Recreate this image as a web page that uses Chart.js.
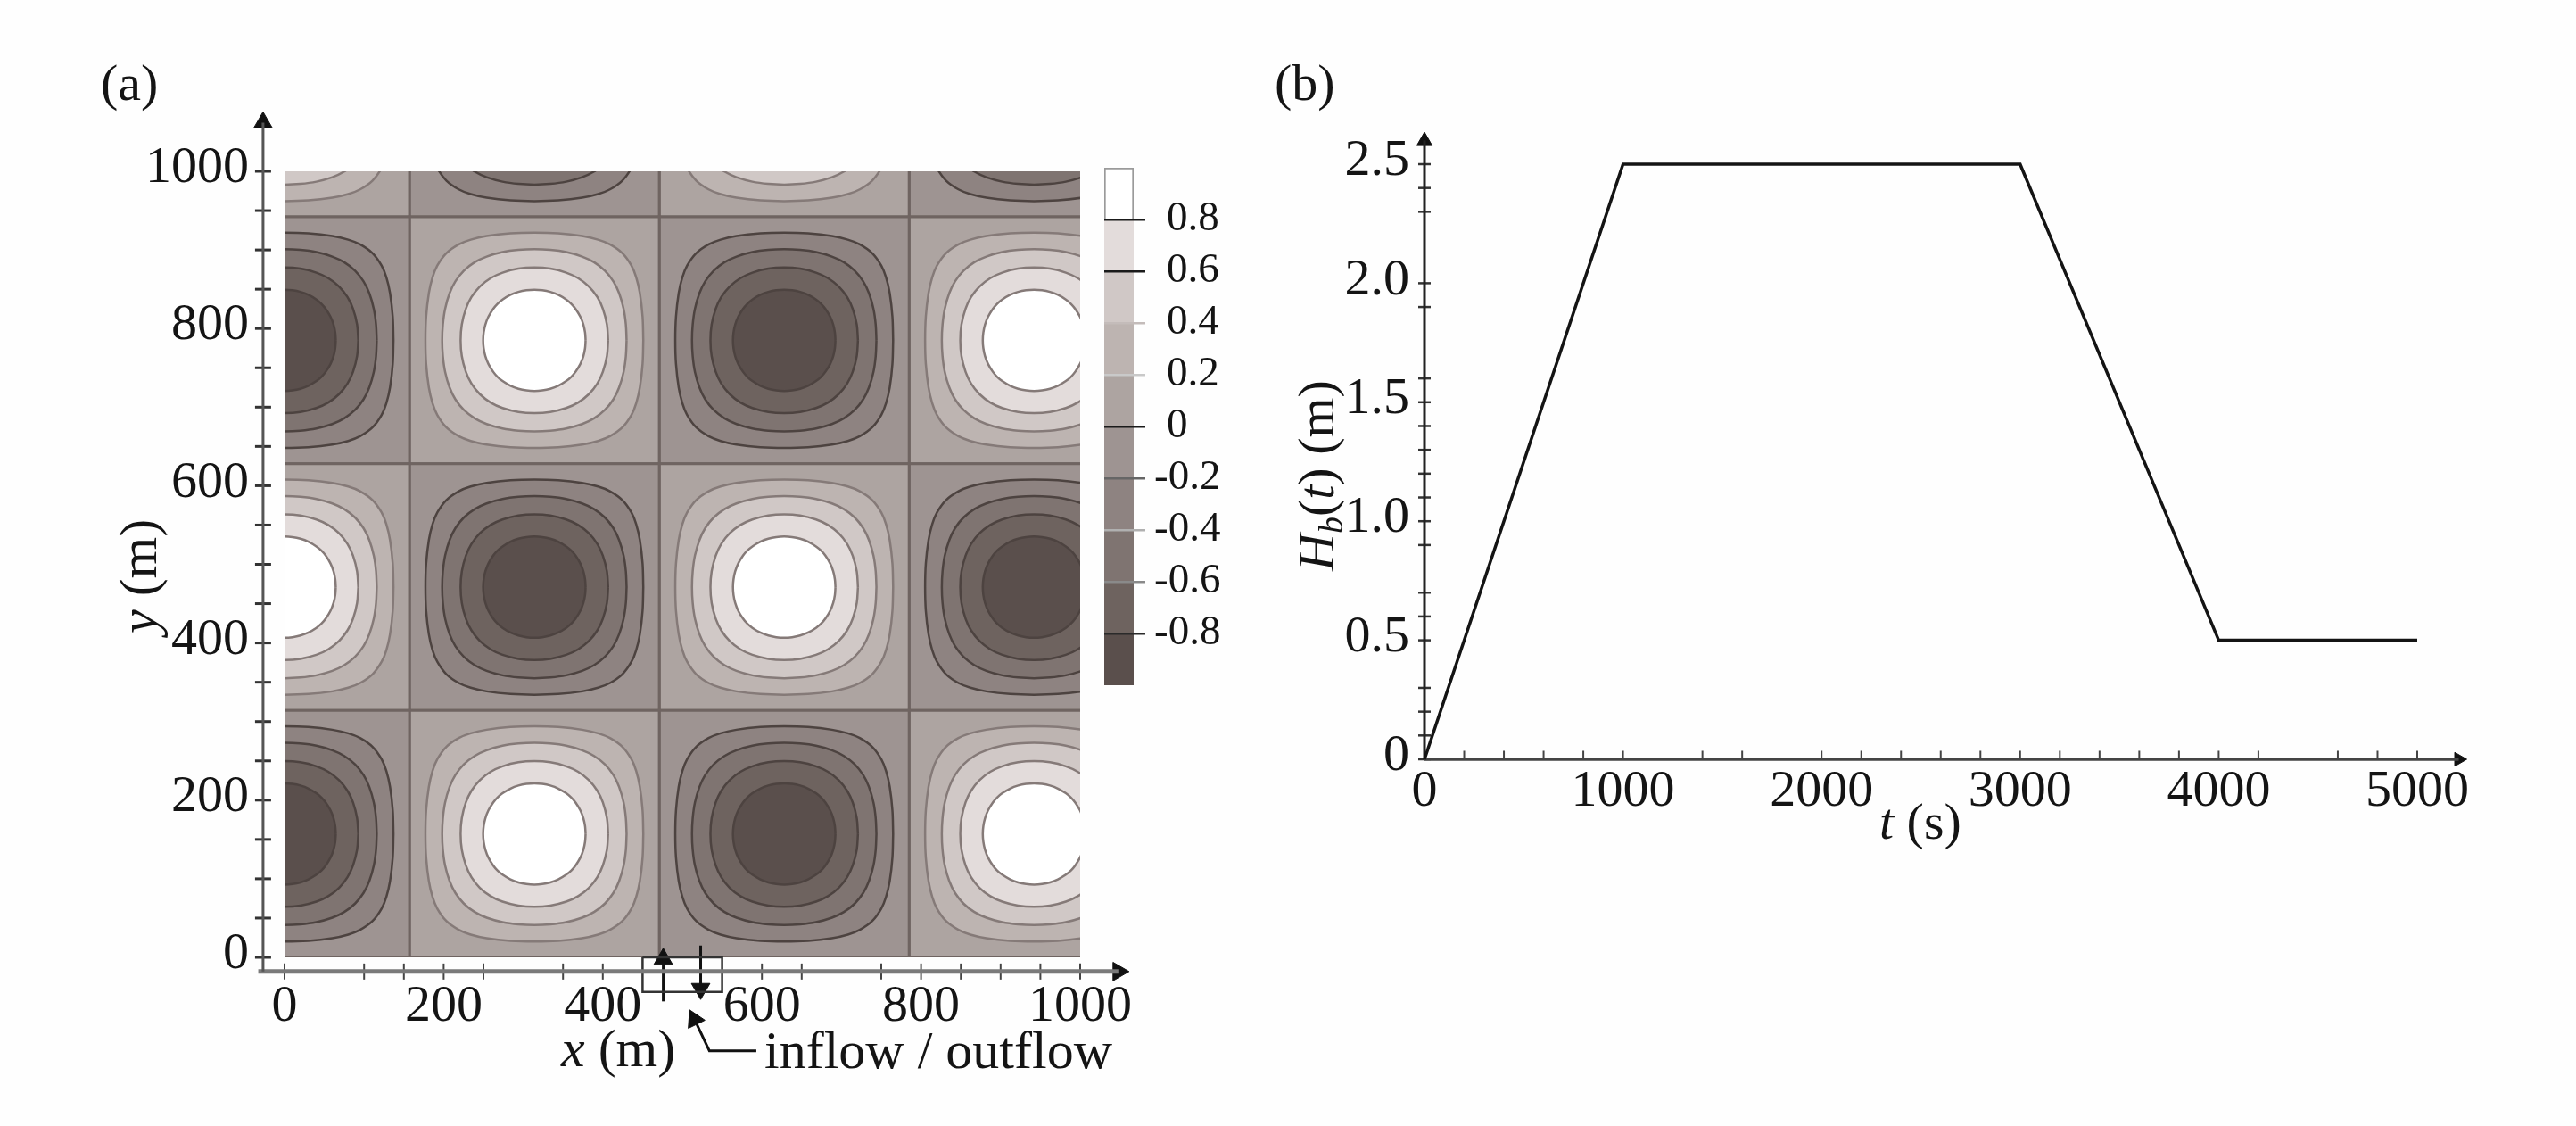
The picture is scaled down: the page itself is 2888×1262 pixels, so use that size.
<!DOCTYPE html>
<html>
<head>
<meta charset="utf-8">
<title>Contour field and boundary head</title>
<script src="https://cdn.jsdelivr.net/npm/chart.js@4/dist/chart.umd.min.js"></script>
<style>
    html, body { margin: 0; padding: 0; background: #fefefe; overflow: hidden; }
    canvas { position: absolute; left: 0; top: 0; }
</style>
</head>
<body>
<canvas id="fieldPlot" width="2888" height="1262"></canvas>
<canvas id="fieldFrame" width="2888" height="1262"></canvas>
<canvas id="colorBar" width="2888" height="1262"></canvas>
<canvas id="headPlot" width="2888" height="1262"></canvas>
<script>
// Panel (a): cell centres in metres, sign of the field in each cell (bottom row first)
const cellX = [0, 314, 628, 942];
const cellY = [157, 471, 785, 1099];
const cellHalf = 157;
const cellSign = [
    [-1, 1, -1, 1],
    [1, -1, 1, -1],
    [-1, 1, -1, 1],
    [1, -1, 1, -1],
];

const contour02 = [[136.9, 0], [136, 30], [132.6, 60], [128, 80], [122, 95], [110.7, 110.7], [95, 122], [80, 128], [60, 132.6], [30, 136], [0, 136.9]];
const contour04 = [[115.9, 0], [115, 20], [112.2, 40], [106.5, 60], [99.3, 75], [88.6, 88.6], [75, 99.3], [60, 106.5], [40, 112.2], [20, 115], [0, 115.9]];
const contour06 = [[92.7, 0], [91.2, 20], [86.1, 40], [79.1, 55], [68.5, 68.5], [55, 79.1], [40, 86.1], [20, 91.2], [0, 92.7]];
const contour08 = [[64.4, 0], [63.7, 10], [61.6, 20], [57.8, 30], [51.8, 40], [46.4, 46.4], [40, 51.8], [30, 57.8], [20, 61.6], [10, 63.7], [0, 64.4]];
const contours = [contour02, contour04, contour06, contour08];

// Shades from the colour bar, low end first
const levelEdges = [-1, -0.8, -0.6, -0.4, -0.2, 0, 0.2, 0.4, 0.6, 0.8, 1];
const levelShades = ['#5a4f4c', '#6e635f', '#7f7471', '#8e8381', '#9e9492', '#ada4a1', '#bdb4b1', '#d0c8c6', '#e3dcdb', '#ffffff'];
const barTicks = [0.8, 0.6, 0.4, 0.2, 0, -0.2, -0.4, -0.6, -0.8];

// Axis marks of panel (a)
const fieldLabelsX = [0, 200, 400, 600, 800, 1000];
const fieldLabelsY = [0, 200, 400, 600, 800, 1000];
const fieldTicksX = [0, 100, 150, 200, 250, 350, 400, 600, 650, 750, 800, 850, 900, 950, 1000];
const fieldTicksY = [0, 50, 100, 150, 200, 250, 300, 350, 400, 450, 500, 550, 600, 650, 700, 750, 800, 850, 900, 950, 1000];
const inflowBoxX = [450, 550, 550, 450, 450];
const inflowBoxY = [0, 0, -44, -44, 0];

// Panel (b)
const timeValues = [0, 1000, 3000, 4000, 5000];
const headValues = [0, 2.5, 2.5, 0.5, 0.5];
const timeLabels = [0, 1000, 2000, 3000, 4000, 5000];
const headLabels = [0, 0.5, 1.0, 1.5, 2.0, 2.5];
const headTicksX = [0, 200, 400, 600, 800, 1000, 1400, 1600, 2000, 2200, 2400, 2600, 2800, 3000, 3200, 3400, 3600, 3800, 4000, 4200, 4600, 4800, 5000];
const headTicksY = [0, 0.1, 0.2, 0.3, 0.5, 0.6, 0.7, 0.9, 1.0, 1.1, 1.2, 1.3, 1.4, 1.5, 1.6, 1.9, 2.0, 2.3, 2.4, 2.5];

const serif = 'Liberation Serif';
const inkColor = '#141414';
const W = 2888, H = 1262;

// Where the 0..1000 box of panel (a) sits on the page
const boxLeft = 319, boxRight = 1211, boxTop = 192, boxBottom = 1073;

Chart.defaults.animation = false;
Chart.defaults.devicePixelRatio = 1;
Chart.defaults.font.family = serif;
Chart.defaults.color = inkColor;

function zip(xs, ys) {
    return xs.map((x, i) => ({ x: x, y: ys[i] }));
}

function atValues(list) {
    return scale => { scale.ticks = list.map(v => ({ value: v })); };
}

// Mirror a quarter contour into a closed loop around a centre
function closedLoop(quarter, cx, cy) {
    const back = quarter.slice().reverse().slice(1);
    const rest = quarter.slice(1);
    const loop = quarter
        .concat(back.map(p => [-p[0], p[1]]))
        .concat(rest.map(p => [-p[0], -p[1]]))
        .concat(back.map(p => [p[0], -p[1]]));
    return loop.map(p => ({ x: cx + p[0], y: cy + p[1] }));
}

function lineSet(points, color, width) {
    return { type: 'scatter', showLine: true, data: points, borderColor: color, borderWidth: width, pointRadius: 0, fill: false, clip: false };
}

function markSet(points, style, radius, rotation, color, width) {
    return {
        type: 'scatter', showLine: false, data: points, pointStyle: style, pointRadius: radius, pointRotation: rotation,
        pointBorderColor: color, pointBackgroundColor: color, pointBorderWidth: width, clip: false,
    };
}

// Build the filled cells and their nested contours
const fieldSets = [];
cellY.forEach((cy, row) => {
    cellX.forEach((cx, col) => {
        const sign = cellSign[row][col];
        const zeroIndex = sign > 0 ? 5 : 4;
        fieldSets.push({
            type: 'scatter', showLine: true, pointRadius: 0, fill: 'shape', order: 6, clip: 0,
            backgroundColor: levelShades[zeroIndex], borderColor: '#6f6461', borderWidth: 3,
            data: [
                { x: cx - cellHalf, y: cy - cellHalf }, { x: cx + cellHalf, y: cy - cellHalf },
                { x: cx + cellHalf, y: cy + cellHalf }, { x: cx - cellHalf, y: cy + cellHalf },
                { x: cx - cellHalf, y: cy - cellHalf },
            ],
        });
        contours.forEach((shape, k) => {
            fieldSets.push({
                type: 'scatter', showLine: true, pointRadius: 0, fill: 'shape', order: 5 - k, clip: 0,
                tension: 0.35, capBezierPoints: false,
                backgroundColor: levelShades[zeroIndex + sign * (k + 1)],
                borderColor: sign > 0 ? '#857a78' : '#4d4340', borderWidth: 2.5,
                data: closedLoop(shape, cx, cy),
            });
        });
    });
});

// Axes, ticks and the inflow / outflow sketch of panel (a), on a wider overlay
const frameSets = [
    lineSet([{ x: -27, y: -18 }, { x: -27, y: 1062 }], '#555555', 3),
    lineSet([{ x: -33, y: -18 }, { x: 1048, y: -18 }], '#7a7a7a', 5),
    markSet(fieldTicksY.map(v => ({ x: -27, y: v })), 'line', 9, 0, '#333333', 3),
    markSet(fieldTicksX.map(v => ({ x: v, y: -18 })), 'line', 9, 90, '#444444', 2),
    markSet([{ x: -27, y: 1062 }], 'triangle', 12, 0, '#111111', 1),
    markSet([{ x: 1048, y: -18 }], 'triangle', 12, 90, '#111111', 1),
    lineSet(zip(inflowBoxX, inflowBoxY), '#333333', 2.5),
    lineSet([{ x: 476, y: -56 }, { x: 476, y: 5 }], '#111111', 3),
    lineSet([{ x: 523, y: 15 }, { x: 523, y: -45 }], '#111111', 3),
    markSet([{ x: 476, y: -2 }], 'triangle', 12, 0, '#111111', 1),
    markSet([{ x: 523, y: -40 }], 'triangle', 12, 180, '#111111', 1),
    lineSet([{ x: 593, y: -119 }, { x: 534, y: -119 }, { x: 512, y: -72 }], '#111111', 3),
    markSet([{ x: 515, y: -79 }], 'triangle', 12, -26, '#111111', 1),
];

function runText(ctx, x, y, angle, runs) {
    ctx.save();
    ctx.translate(x, y);
    ctx.rotate(angle);
    ctx.textBaseline = 'alphabetic';
    ctx.textAlign = 'left';
    ctx.fillStyle = inkColor;
    let pen = 0;
    runs.forEach(r => {
        ctx.font = (r.italic ? 'italic ' : '') + (r.size || 58) + 'px "' + serif + '"';
        ctx.fillText(r.text, pen, r.drop || 0);
        pen += ctx.measureText(r.text).width;
    });
    ctx.restore();
}

const fieldTexts = {
    id: 'fieldTexts',
    afterDraw(chart) {
        const ctx = chart.ctx;
        runText(ctx, 113, 112, 0, [{ text: '(a)' }]);
        runText(ctx, 175, 710, -Math.PI / 2, [{ text: 'y', italic: true, size: 60 }, { text: ' (m)', size: 60 }]);
        runText(ctx, 629, 1195, 0, [{ text: 'x', italic: true, size: 60 }, { text: ' (m)', size: 60 }]);
        runText(ctx, 857, 1197, 0, [{ text: 'inflow / outflow', size: 60 }]);
    },
};

const headTexts = {
    id: 'headTexts',
    afterDraw(chart) {
        const ctx = chart.ctx;
        runText(ctx, 1429, 112, 0, [{ text: '(b)' }]);
        runText(ctx, 1495, 640, -Math.PI / 2, [
            { text: 'H', italic: true }, { text: 'b', italic: true, size: 38, drop: 10 },
            { text: '(' }, { text: 't', italic: true }, { text: ') (m)' },
        ]);
        runText(ctx, 2107, 940, 0, [{ text: 't', italic: true }, { text: ' (s)' }]);
    },
};

const quiet = { legend: { display: false }, tooltip: { enabled: false } };

// Panel (a)
new Chart(document.getElementById('fieldPlot'), {
    type: 'scatter',
    data: { datasets: fieldSets },
    options: {
        responsive: false,
        layout: { padding: { top: boxTop, right: W - boxRight } },
        plugins: quiet,
        scales: {
            x: {
                type: 'linear', min: 0, max: 1000, afterBuildTicks: atValues(fieldLabelsX),
                afterFit: s => { s.height = H - boxBottom; },
                grid: { display: false, drawTicks: false }, border: { display: false },
                ticks: { padding: 21, maxRotation: 0, autoSkip: false, font: { size: 58 }, callback: v => String(v) },
            },
            y: {
                type: 'linear', min: 0, max: 1000, afterBuildTicks: atValues(fieldLabelsY),
                afterFit: s => { s.width = boxLeft; },
                grid: { display: false, drawTicks: false }, border: { display: false },
                ticks: { padding: 40, labelOffset: -3, autoSkip: false, font: { size: 58 }, callback: v => String(v) },
            },
        },
    },
    plugins: [fieldTexts],
});

// Overlay with the same metres per pixel as the box, but room for the axes around it
const frameX = [-50, 1100], frameY = [-150, 1100];
const pxX = (boxRight - boxLeft) / 1000, pxY = (boxBottom - boxTop) / 1000;
new Chart(document.getElementById('fieldFrame'), {
    type: 'scatter',
    data: { datasets: frameSets },
    options: {
        responsive: false,
        layout: {
            padding: {
                left: boxLeft + frameX[0] * pxX, right: W - boxLeft - frameX[1] * pxX,
                top: boxBottom - frameY[1] * pxY, bottom: H - boxBottom + frameY[0] * pxY,
            },
        },
        plugins: quiet,
        scales: {
            x: { type: 'linear', min: frameX[0], max: frameX[1], display: false },
            y: { type: 'linear', min: frameY[0], max: frameY[1], display: false },
        },
    },
});

// Colour bar of panel (a)
const barSets = levelShades.map((shade, i) => ({
    data: [[levelEdges[i], levelEdges[i + 1]]],
    backgroundColor: shade,
    borderColor: i === levelShades.length - 1 ? '#9a9a9a' : shade,
    borderWidth: i === levelShades.length - 1 ? 2 : 0,
    barPercentage: 1,
    categoryPercentage: 1,
    grouped: false,
}));
const barTickColors = { '0.8': '#1a1a1a', '0.6': '#1a1a1a', '0.4': '#c4bcba', '0.2': '#c9c9c9', '0': '#1a1a1a', '-0.2': '#666666', '-0.4': '#b0b0b0', '-0.6': '#8a8a8a', '-0.8': '#2a2a2a' };

new Chart(document.getElementById('colorBar'), {
    type: 'bar',
    data: { labels: [''], datasets: barSets },
    options: {
        responsive: false,
        layout: { padding: { left: 1238, top: 188, bottom: H - 768 } },
        plugins: quiet,
        scales: {
            x: { display: false },
            y: {
                position: 'right', min: -1, max: 1, afterBuildTicks: atValues(barTicks),
                afterFit: s => { s.width = W - 1271; },
                grid: {
                    z: 1, tickLength: 13, lineWidth: 2.5,
                    color: c => barTickColors[String(c.tick.value)],
                    tickColor: c => barTickColors[String(c.tick.value)],
                },
                border: { display: false },
                ticks: { padding: 24, autoSkip: false, font: { size: 47 }, callback: v => (v >= 0 ? String(v) : '') },
            },
            // negative labels start further left, so that the digits line up with the positive ones
            yNegative: {
                axis: 'y', position: 'left', min: -1, max: 1, afterBuildTicks: atValues(barTicks.filter(v => v < 0)),
                afterFit: s => { s.width = 0; },
                grid: { display: false, drawTicks: false },
                border: { display: false },
                ticks: { mirror: true, crossAlign: 'near', padding: 56, autoSkip: false, font: { size: 47 }, callback: v => String(v) },
            },
        },
    },
});

// Panel (b): the area runs past the last labels to leave room for the arrows
const headMaxX = 5300, headMaxY = 2.7;
const headLeft = 1597, headBottom = 851;
new Chart(document.getElementById('headPlot'), {
    type: 'scatter',
    data: {
        datasets: [
            lineSet(zip(timeValues, headValues), '#141414', 3.5),
            lineSet([{ x: 0, y: 0 }, { x: 0, y: 2.6 }], '#222222', 3),
            lineSet([{ x: 0, y: 0 }, { x: 5209, y: 0 }], '#444444', 3.5),
            markSet(headTicksY.map(v => ({ x: 0, y: v })), 'line', 7, 0, '#333333', 2.5),
            markSet(headTicksX.map(v => ({ x: v, y: 0.017 })), 'line', 5, 90, '#444444', 2),
            markSet([{ x: 0, y: 2.597 }], 'triangle', 10, 0, '#111111', 1),
            markSet([{ x: 5209, y: 0 }], 'triangle', 9, 90, '#111111', 1),
        ],
    },
    options: {
        responsive: false,
        layout: { padding: { top: headBottom - headMaxY * 266.8, right: W - headLeft - headMaxX * 0.2226 } },
        plugins: quiet,
        scales: {
            x: {
                type: 'linear', min: 0, max: headMaxX, afterBuildTicks: atValues(timeLabels),
                afterFit: s => { s.height = H - headBottom; },
                grid: { display: false, drawTicks: false }, border: { display: false },
                ticks: { padding: 2, maxRotation: 0, autoSkip: false, font: { size: 58 }, callback: v => String(v) },
            },
            y: {
                type: 'linear', min: 0, max: headMaxY, afterBuildTicks: atValues(headLabels),
                afterFit: s => { s.width = headLeft; },
                grid: { display: false, drawTicks: false }, border: { display: false },
                ticks: {
                    padding: 17, labelOffset: -3, autoSkip: false, font: { size: 58 },
                    callback: v => (v === 0 ? '0' : v.toFixed(1)),
                },
            },
        },
    },
    plugins: [headTexts],
});
</script>
</body>
</html>
